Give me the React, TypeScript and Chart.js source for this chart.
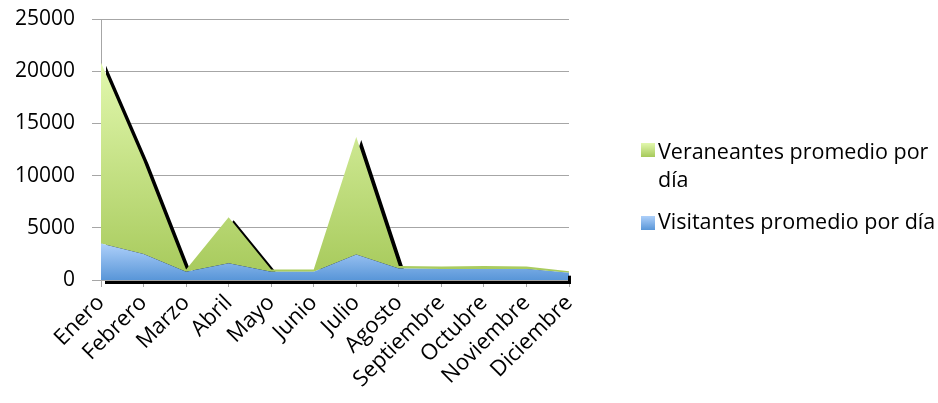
import React, { useEffect, useRef } from 'react';
import { Chart, registerables } from 'chart.js';

Chart.register(...registerables);

const meses = ['Enero', 'Febrero', 'Marzo', 'Abril', 'Mayo', 'Junio', 'Julio', 'Agosto', 'Septiembre', 'Octubre', 'Noviembre', 'Diciembre'];
const visitantes = [3500, 2500, 800, 1600, 800, 800, 2450, 1100, 1050, 1050, 1050, 700];
const veraneantes = [17300, 8900, 200, 4400, 200, 200, 11250, 250, 250, 300, 250, 150];
const yMax = 25000;
const yStep = 5000;
const nombreVeraneantes = 'Veraneantes promedio por día';
const nombreVisitantes = 'Visitantes promedio por día';

const FONT = "'Open Sans', sans-serif";
const GRID = '#a6a6a6';

const GREEN_LIGHT = '#e2f8ae';
const GREEN_DARK = '#a6c95a';
const BLUE_LIGHT = '#aed0fa';
const BLUE_DARK = '#5996d8';

function vgrad(chart: any, topValue: number, light: string, dark: string) {
  const { ctx, chartArea, scales } = chart;
  if (!chartArea || !scales.y) return dark;
  const top = scales.y.getPixelForValue(topValue);
  const bottom = scales.y.getPixelForValue(0);
  const g = ctx.createLinearGradient(0, top, 0, bottom);
  g.addColorStop(0, light);
  g.addColorStop(1, dark);
  return g;
}

const shadowPlugin = {
  id: 'areaShadow',
  beforeDatasetsDraw(chart: any) {
    const ctx = chart.ctx;
    ctx.save();
    ctx.shadowColor = 'rgba(0,0,0,1)';
    ctx.shadowOffsetX = 5;
    ctx.shadowOffsetY = 3;
    ctx.shadowBlur = 0.5;
  },
  afterDatasetsDraw(chart: any) {
    const ctx = chart.ctx;
    ctx.restore();
    const xs = chart.scales.x;
    const ys = chart.scales.y;
    const x0 = xs.getPixelForValue(0) + 4;
    const last = meses.length - 1;
    const x1 = xs.getPixelForValue(last) + 2;
    const y0 = ys.getPixelForValue(0);
    const yDic = ys.getPixelForValue(visitantes[last]);
    ctx.save();
    ctx.fillStyle = '#000';
    ctx.fillRect(x0, y0 + 1, x1 - x0, 3);
    ctx.fillRect(x1 - 3, yDic + 3, 3, y0 - yDic);
    ctx.restore();
  },
};

export default function App() {
  const ref = useRef<HTMLCanvasElement | null>(null);

  useEffect(() => {
    if (!ref.current) return;
    const totals = visitantes.map((v, i) => v + veraneantes[i]);
    const maxTotal = Math.max(...totals);
    const maxVis = Math.max(...visitantes);
    const chart = new Chart(ref.current, {
      type: 'line',
      data: {
        labels: meses,
        datasets: [
          {
            label: nombreVisitantes,
            data: visitantes,
            fill: 'origin',
            borderWidth: 0,
            borderColor: 'transparent',
            pointRadius: 0,
            pointHoverRadius: 0,
            tension: 0,
            backgroundColor: (c: any) => vgrad(c.chart, maxVis, BLUE_LIGHT, BLUE_DARK),
          },
          {
            label: nombreVeraneantes,
            data: veraneantes,
            fill: '-1',
            borderWidth: 0,
            borderColor: 'transparent',
            pointRadius: 0,
            pointHoverRadius: 0,
            tension: 0,
            backgroundColor: (c: any) => vgrad(c.chart, maxTotal, GREEN_LIGHT, GREEN_DARK),
          },
        ],
      },
      options: {
        animation: false,
        responsive: true,
        maintainAspectRatio: false,
        layout: { padding: { top: 19, right: 369, bottom: 0, left: 0 } },
        plugins: {
          legend: { display: false },
          tooltip: { enabled: false },
        },
        scales: {
          x: {
            offset: false,
            grid: { display: true, drawOnChartArea: false, drawTicks: true, tickLength: 7, color: GRID },
            border: { display: true, color: GRID },
            ticks: {
              autoSkip: false,
              maxRotation: 45,
              minRotation: 45,
              padding: 3,
              color: '#000',
              font: { family: FONT, size: 22 },
            },
            afterFit: (s: any) => { s.height = 403 - 280; s.paddingLeft = 0; s.paddingRight = 0; },
          },
          y: {
            stacked: true,
            min: 0,
            max: yMax,
            grid: { color: GRID, tickLength: 9 },
            border: { display: true, color: GRID },
            ticks: {
              stepSize: yStep,
              padding: 17,
              color: '#000',
              font: { family: FONT, size: 21 },
              callback: (v: any) => String(v),
            },
            afterFit: (s: any) => { s.width = 101; s.paddingTop = 0; s.paddingBottom = 0; },
          },
        },
      },
      plugins: [shadowPlugin],
    });
    return () => chart.destroy();
  }, []);

  const box = (light: string, dark: string, top: number): React.CSSProperties => ({
    position: 'absolute', left: 641, top, width: 14, height: 14,
    background: `linear-gradient(${light}, ${dark})`,
  });
  const text: React.CSSProperties = {
    position: 'absolute', left: 658, fontFamily: FONT, fontSize: 21.5, lineHeight: '28.7px',
    color: '#000', whiteSpace: 'nowrap',
  };
  const partes = nombreVeraneantes.split(' ');
  const linea1 = partes.slice(0, -1).join(' ');
  const linea2 = partes[partes.length - 1];

  return (
    <div style={{ position: 'absolute', left: 0, top: 0, width: 938, height: 403, background: '#fff' }}>
      <canvas ref={ref} />
      <div style={box(GREEN_LIGHT, GREEN_DARK, 143)} />
      <div style={{ ...text, top: 136.6 }}>
        <div>{linea1}</div>
        <div>{linea2}</div>
      </div>
      <div style={box(BLUE_LIGHT, BLUE_DARK, 216)} />
      <div style={{ ...text, top: 207.3 }}>{nombreVisitantes}</div>
    </div>
  );
}
